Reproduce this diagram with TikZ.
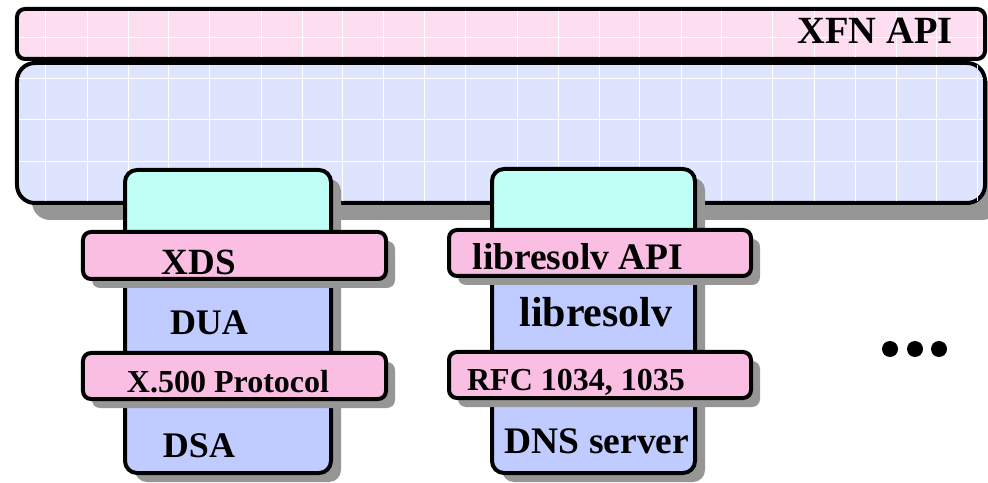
\documentclass[tikz,border=0pt]{standalone}
\usepackage{fontspec}
\setmainfont{Liberation Serif}
\usetikzlibrary{shadows}
\definecolor{pinkbar}{RGB}{253,222,240}
\definecolor{bluebg}{RGB}{222,228,253}
\definecolor{cyantop}{RGB}{192,255,246}
\definecolor{colblue}{RGB}{192,204,255}
\definecolor{bandpink}{RGB}{250,190,226}
\definecolor{shade}{RGB}{150,150,150}
\tikzset{
  panel/.style={draw=black, line width=4bp, inner sep=0pt, outer sep=0pt},
  bigshadow/.style={drop shadow={shadow xshift=15bp, shadow yshift=-17bp, fill=shade, opacity=1}},
  colshadow/.style={drop shadow={shadow xshift=10bp, shadow yshift=-9bp, fill=shade, opacity=1}},
  bandshadow/.style={drop shadow={shadow xshift=9bp, shadow yshift=-9bp, fill=shade, opacity=1}},
  colpart/.style={panel, colshadow, rounded corners=12bp, minimum width=206bp},
  band/.style={panel, bandshadow, fill=bandpink, rounded corners=8bp, minimum height=47bp},
  gridline/.style={draw=white, line width=1bp},
  lbl/.style={inner sep=0pt, anchor=base, font=\fontsize{#1}{#1}\selectfont\bfseries},
  dot/.style={circle, fill=black, inner sep=0pt, minimum size=16bp}
}
\begin{document}
\begin{tikzpicture}[x=1bp,y=-1bp]
\useasboundingbox (0,0) rectangle (988,483);
% large blue frame
\node[panel, bigshadow, fill=bluebg, rounded corners=18bp, minimum width=968bp, minimum height=140bp] (frame) at (501,133) {};
\foreach \gx in {45,87,128,168,209,261,302,342,383,424,465,517,558,599,639,681,721,772,814,855,896,936,977}
  \draw[gridline] (\gx,65) -- (\gx,201);
\foreach \gy in {79,120,162}
  \draw[gridline] (19,\gy) -- (983,\gy);
% top XFN API bar
\node[panel, fill=pinkbar, rounded corners=8bp, minimum width=968bp, minimum height=50bp] (xfnbar) at (501,34) {};
\foreach \gx in {45,87,128,168,209,261,302,342,383,424,465,517,558,599,639,681,721,772,814,855,896,936,977}
  \draw[gridline] (\gx,11) -- (\gx,57);
\draw[gridline] (19,38) -- (983,38);
\node[lbl=38.5bp] (xfn) at (875,44) {XFN API};
% left stack
\node[colpart, fill=cyantop, minimum height=80bp] (lcyan) at (228,210) {};
\node[colpart, fill=colblue, minimum height=213bp] (lcol) at (228,366.5) {};
\node[band, minimum width=303bp] (xdsband) at (234.5,255.5) {};
\node[band, minimum width=303bp, minimum height=46bp] (x500band) at (234.5,376) {};
\node[lbl=37bp] (xds) at (199,275) {XDS};
\node[lbl=36bp] (dua) at (209,335) {DUA};
\node[lbl=32bp] (x500) at (228,392) {X.500 Protocol};
\node[lbl=36bp] (dsa) at (199,457) {DSA};
% right stack
\node[colpart, fill=cyantop, minimum width=203bp, minimum height=81bp] (rcyan) at (593.5,209.5) {};
\node[colpart, fill=colblue, minimum width=203bp, minimum height=213bp] (rcol) at (593.5,366.5) {};
\node[band, minimum width=302bp, minimum height=46bp] (apiband) at (600,253) {};
\node[band, minimum width=302bp, minimum height=46bp] (rfcband) at (600,375) {};
\node[lbl=37.5bp] (api) at (578,270) {libresolv API};
\node[lbl=42bp] (lib) at (596,327) {libresolv};
\node[lbl=32bp] (rfc) at (576,390) {RFC 1034, 1035};
\node[lbl=37.5bp] (dns) at (597,453) {DNS server};
% ellipsis
\node[dot] (d1) at (890,349) {};
\node[dot] (d2) at (915,349) {};
\node[dot] (d3) at (939,349) {};
\end{tikzpicture}
\end{document}
